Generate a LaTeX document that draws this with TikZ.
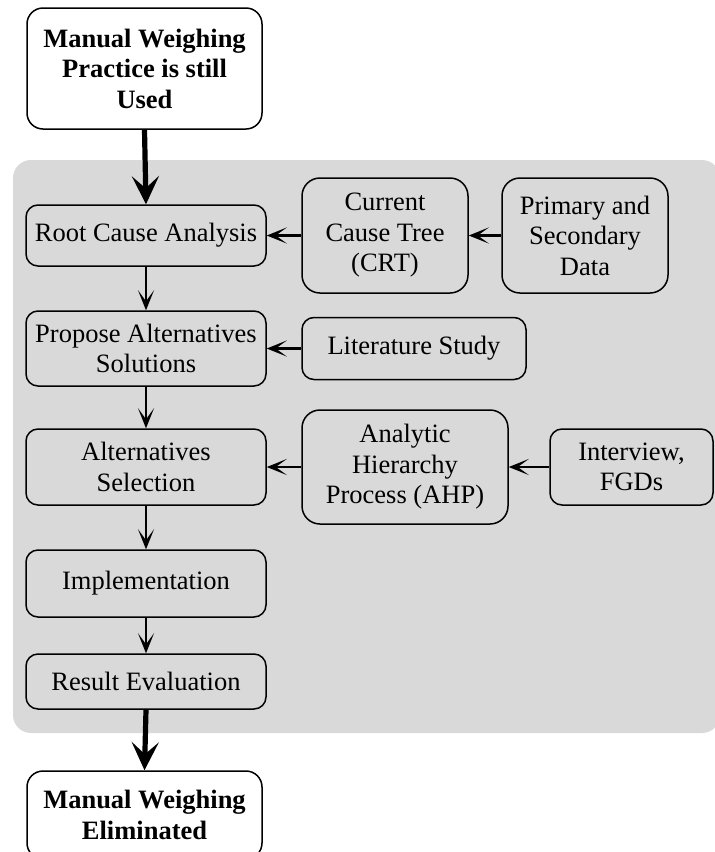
\documentclass[tikz,border=0pt]{standalone}
\usepackage{fontspec}
\setmainfont{Liberation Serif}
\usetikzlibrary{arrows.meta}
\definecolor{panelgray}{HTML}{D9D9D9}
\begin{document}
\begin{tikzpicture}[x=0.5pt,y=-0.5pt,
  every node/.style={font=\fontsize{13.25}{15.25}\selectfont, align=center, inner sep=0pt},
  box/.style={draw=black, line width=0.75pt, fill=panelgray, rounded corners=6pt},
  bigbox/.style={box, rounded corners=9pt},
  endbox/.style={draw=black, line width=0.75pt, fill=white, rounded corners=8pt,
    font=\fontsize{13.25}{15.25}\selectfont\bfseries},
  flow/.style={line width=1.2pt, -{Stealth[length=10pt,width=8pt,inset=5.5pt]}},
  mainflow/.style={line width=2.6pt, -{Stealth[length=14pt,width=13.5pt,inset=6pt]}}
]
\useasboundingbox (0,0) rectangle (714,852);

% shaded panel holding the analysis steps
\fill[panelgray, rounded corners=9pt] (13,160) rectangle (720,733);

% start and end states
\node[endbox, minimum width=117.5pt, minimum height=60.5pt] (start) at (144.5,68.5)
  {Manual Weighing\\Practice is still\\Used};
\node[endbox, minimum width=117.5pt, minimum height=44pt] (finish) at (144.5,815)
  {Manual Weighing\\Eliminated};

% main chain of steps
\node[box, minimum width=120pt, minimum height=30.5pt] (rca) at (146,235.5)
  {Root Cause Analysis};
\node[box, minimum width=120pt, minimum height=37.5pt] (prop) at (146,348.5)
  {Propose Alternatives\\Solutions};
\node[box, minimum width=120pt, minimum height=38pt] (sel) at (146,467)
  {Alternatives\\Selection};
\node[box, minimum width=120pt, minimum height=33.5pt] (impl) at (146,583.5)
  {Implementation};
\node[box, minimum width=120pt, minimum height=27.5pt] (eval) at (146,681.5)
  {Result Evaluation};

% supporting inputs
\node[bigbox, minimum width=83pt, minimum height=57.5pt] (crt) at (385,235.5)
  {Current\\Cause Tree\\(CRT)};
\node[bigbox, minimum width=83pt, minimum height=57.5pt] (data) at (585,235.5)
  {Primary and\\Secondary\\Data};
\node[box, minimum width=112pt, minimum height=31pt] (lit) at (414,348.5)
  {Literature Study};
\node[bigbox, minimum width=103pt, minimum height=57pt] (ahp) at (405,467)
  {Analytic\\Hierarchy\\Process (AHP)};
\node[box, minimum width=81.5pt, minimum height=38pt] (intv) at (631.5,467)
  {Interview,\\FGDs};

% connectors
\draw[mainflow] (start.south) -- (rca.north);
\draw[flow] (rca.south) -- (prop.north);
\draw[flow] (prop.south) -- (sel.north);
\draw[flow] (sel.south) -- (impl.north);
\draw[flow] (impl.south) -- (eval.north);
\draw[mainflow] (eval.south) -- (finish.north);

\draw[flow] (crt.west) -- (rca.east);
\draw[flow] (data.west) -- (crt.east);
\draw[flow] (lit.west) -- (prop.east);
\draw[flow] (ahp.west) -- (sel.east);
\draw[flow] (intv.west) -- (ahp.east);
\end{tikzpicture}
\end{document}
